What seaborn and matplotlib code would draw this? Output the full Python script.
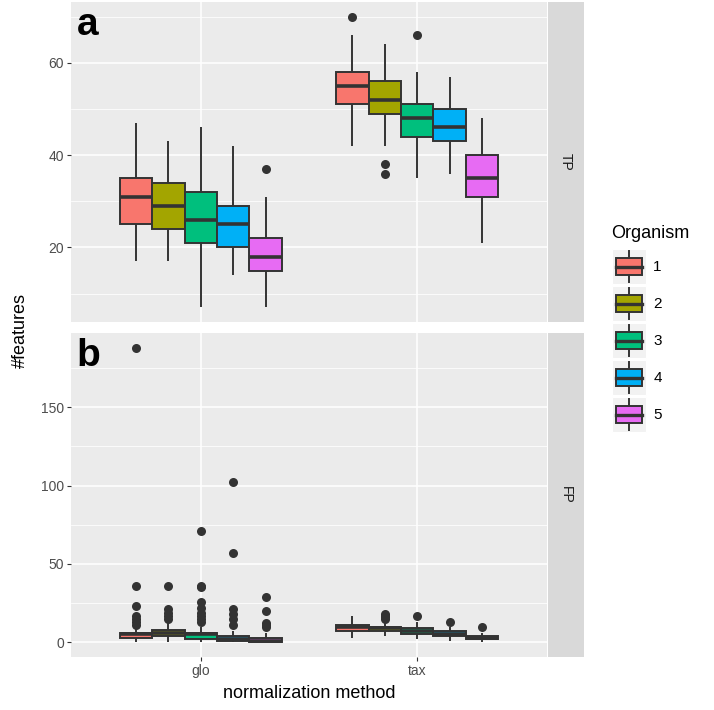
import numpy as np
import pandas as pd
from matplotlib import pyplot as plt
from matplotlib.patches import Patch, Rectangle
from matplotlib.lines import Line2D
from matplotlib.legend_handler import HandlerBase
import seaborn as sns

plt.rcParams['font.family'] = ['Liberation Sans', 'DejaVu Sans']

organisms = ['1', '2', '3', '4', '5']
methods = ['glo', 'tax']
colors = ['#F8766D', '#A3A500', '#00BF7D', '#00B0F6', '#E76BF3']

# true positives, one list of observations per organism
tp_glo = [
    [17, 22, 25, 28, 31, 33, 35, 40, 47],
    [17, 21, 24, 27, 29, 31, 34, 38, 43],
    [7, 15, 21, 24, 26, 29, 32, 39, 46],
    [14, 17, 20, 23, 25, 27, 29, 35, 42],
    [7, 12, 15, 17, 18, 20, 22, 31, 37],
]
tp_tax = [
    [42, 48, 51, 53, 55, 57, 58, 66, 70],
    [36, 38, 42, 49, 50, 51, 52, 54, 55, 56, 58, 60, 64],
    [35, 41, 44, 46, 48, 50, 51, 58, 66],
    [36, 40, 43, 45, 46, 48, 50, 53, 57],
    [21, 27, 31, 33, 35, 38, 40, 44, 48],
]
# false positives
fp_glo = [
    [0, 1, 1, 2, 2, 2, 3, 3, 3, 3, 4, 4, 4, 4, 5, 5, 5, 5, 5, 6, 6, 6, 6, 6, 6,
     10, 11, 13, 15, 17, 23, 36, 188],
    [0, 1, 2, 2, 3, 3, 3, 4, 4, 4, 4, 5, 5, 5, 5, 6, 6, 6, 6, 7, 7, 7, 7, 8, 8,
     9, 10, 12, 15, 17, 19, 21, 36],
    [0, 0, 1, 1, 1, 2, 2, 2, 2, 2, 2, 3, 3, 3, 4, 4, 4, 4, 5, 5, 5, 5, 5, 5, 5,
     6, 6, 6, 6, 6, 6, 10, 13, 15, 17, 19, 22, 26, 35, 36, 71],
    [0, 0, 0, 0, 1, 1, 1, 1, 1, 1, 2, 2, 2, 2, 2, 3, 3, 3, 3, 4, 4, 4, 7,
     11, 15, 18, 21, 57, 102],
    [0, 0, 0, 0, 0, 0, 0, 0, 1, 1, 1, 1, 1, 2, 2, 2, 3, 3, 3, 6,
     10, 11, 12, 20, 29],
]
fp_tax = [
    [3, 5, 7, 9, 10, 10, 11, 14, 17],
    [4, 5, 6, 6, 7, 7, 8, 8, 9, 9, 9, 9, 10, 10, 10, 10, 13, 15, 16, 17, 18],
    [2, 4, 5, 6, 7, 8, 9, 13, 17],
    [1, 3, 4, 5, 5, 6, 7, 10, 13],
    [0, 1, 2, 3, 3, 3, 4, 6, 10],
]


def _long(by_method):
    rows = []
    for method, groups in by_method.items():
        for org, vals in zip(organisms, groups):
            for v in vals:
                rows.append((method, org, v))
    return pd.DataFrame(rows, columns=['method', 'Organism', 'count'])


class BoxKey(HandlerBase):
    def create_artists(self, legend, orig_handle, xdescent, ydescent,
                       width, height, fontsize, trans):
        x0, y0 = -xdescent, -ydescent
        bg = Rectangle((x0, y0), width, height, fc='#F2F2F2', ec='white',
                       lw=0.8, transform=trans)
        cx = x0 + width / 2
        wl = Line2D([cx, cx], [y0 + height * 0.05, y0 + height * 0.95],
                    color='#333333', lw=1.4, transform=trans)
        box = Rectangle((x0 + width * 0.12, y0 + height * 0.26), width * 0.76,
                        height * 0.48, fc=orig_handle.get_facecolor(),
                        ec='#333333', lw=1.4, transform=trans)
        med = Line2D([x0 + width * 0.12, x0 + width * 0.88], [y0 + height / 2] * 2,
                     color='#333333', lw=2.4, transform=trans)
        return [bg, wl, box, med]


W, H = 714, 710
fig = plt.figure(figsize=(W / 100, H / 100), dpi=100)
ax_tp = fig.add_axes([71 / W, 1 - 322 / H, 476 / W, 320 / H])
ax_fp = fig.add_axes([71 / W, 1 - 657 / H, 476 / W, 324 / H])

panels = [
    (ax_tp, _long({'glo': tp_glo, 'tax': tp_tax}), 'TP', [20, 40, 60], 'a'),
    (ax_fp, _long({'glo': fp_glo, 'tax': fp_tax}), 'FP', [0, 50, 100, 150], 'b'),
]

for ax, df, strip, ticks, tag in panels:
    ax.set_facecolor('#EBEBEB')
    sns.boxplot(
        data=df, x='method', y='count', hue='Organism', order=methods,
        hue_order=organisms, palette=colors, saturation=1, width=0.75, gap=0,
        linecolor='#333333', linewidth=1.4, fliersize=6.5, showcaps=False,
        flierprops=dict(marker='o', markerfacecolor='#333333',
                        markeredgecolor='#333333', markeredgewidth=0),
        medianprops=dict(linewidth=2.6, color='#333333'),
        legend=False, ax=ax)
    lo, hi = df['count'].min(), df['count'].max()
    pad = 0.05 * (hi - lo)
    step = ticks[1] - ticks[0]
    minor = np.arange(ticks[0] - step / 2, hi + pad, step)
    ax.set_yticks(ticks)
    ax.set_yticks(minor[minor > lo - pad], minor=True)
    ax.set_ylim(lo - pad, hi + pad)
    ax.set_xlim(-0.6, 1.6)
    ax.set_axisbelow(True)
    ax.grid(which='major', color='white', lw=1.1)
    ax.grid(which='minor', axis='y', color='white', lw=0.55)
    ax.tick_params(which='minor', length=0)
    ax.tick_params(which='major', length=3, color='#333333', width=0.8,
                   labelcolor='#4D4D4D', labelsize=10, pad=2)
    for s in ax.spines.values():
        s.set_visible(False)
    ax.set_xlabel('')
    ax.set_ylabel('')
    ax.text(0.012, 0.985, tag, transform=ax.transAxes, fontsize=28,
            fontweight='bold', va='top', ha='left', color='black')

    pos = ax.get_position()
    sax = fig.add_axes([548 / W, pos.y0, 36 / W, pos.height])
    sax.set_facecolor('#D9D9D9')
    sax.set_xticks([])
    sax.set_yticks([])
    for s in sax.spines.values():
        s.set_visible(False)
    sax.text(0.5, 0.5, strip, rotation=-90, ha='center', va='center',
             color='#1A1A1A', fontsize=10, transform=sax.transAxes)

ax_tp.tick_params(axis='x', length=0, labelbottom=False)

fig.text(20 / W, 1 - 330 / H, '#features', rotation=90, ha='center',
         va='center', fontsize=13)
fig.text(309 / W, 1 - 693 / H, 'normalization method', ha='center',
         va='center', fontsize=13)

fig.text(611 / W, 1 - 233 / H, 'Organism', ha='left', va='center', fontsize=13)
handles = [Patch(facecolor=c) for c in colors]
fig.legend(handles, organisms, loc='upper left',
           bbox_to_anchor=(612 / W, 1 - 249 / H), frameon=False, fontsize=11,
           handlelength=2.2, handleheight=3.15,
           labelspacing=0.13, handletextpad=0.5,
           borderpad=0, borderaxespad=0, handler_map={Patch: BoxKey()})

plt.savefig('out.png', dpi=100)
